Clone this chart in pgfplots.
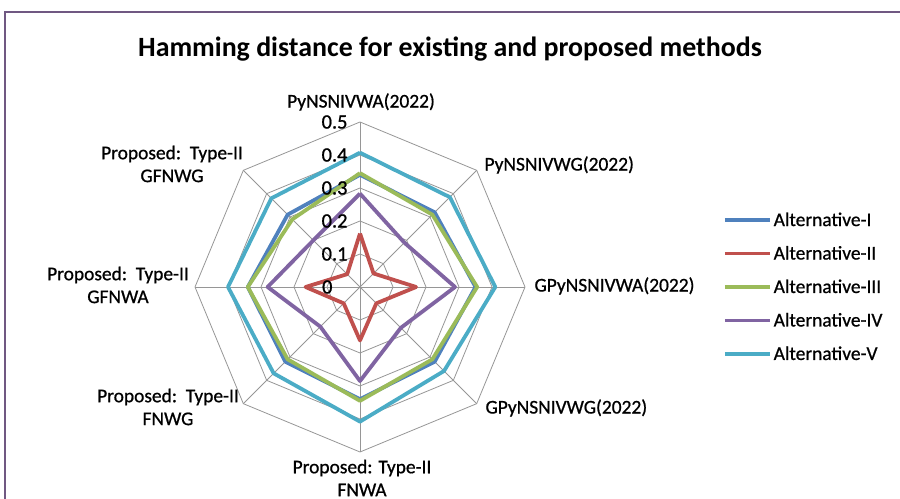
\documentclass[border=0pt]{standalone}
\usepackage{fontspec}
\setmainfont{Carlito}
\usepackage{pgfplots}
\pgfplotsset{compat=1.18}
\usepgfplotslibrary{polar}
\definecolor{altI}{RGB}{79,129,189}
\definecolor{altII}{RGB}{192,80,77}
\definecolor{altIII}{RGB}{155,187,89}
\definecolor{altIV}{RGB}{128,100,162}
\definecolor{altV}{RGB}{75,172,198}
\definecolor{gridcol}{RGB}{150,150,150}
\definecolor{framecol}{RGB}{112,88,130}
\newfontfamily\labfont[FakeBold=0.8]{Carlito}
\newcommand\lab{\labfont\fontsize{19.5}{23}\selectfont}

\begin{document}
\begin{tikzpicture}[x=1bp,y=1bp]
\useasboundingbox (0,0) rectangle (900,499);
\draw[framecol, line width=1.3bp] (5,-5) -- (5,487) -- (905,487);
\node[font=\fontsize{28}{33}\selectfont\bfseries] at (450,450) {Hamming distance for existing and proposed methods};

\begin{polaraxis}[
    at={(360bp,212bp)}, anchor=center,
    width=330bp, height=330bp, scale only axis,
    xmin=0, xmax=360, ymin=0, ymax=0.5,
    axis line style={draw=none},
    xtick=\empty, ytick=\empty,
    clip=false,
    every axis plot/.append style={line join=round},
    legend style={at={(1.59,0.5)}, anchor=west, draw=none, fill=none,
        font=\lab, row sep=14.5bp},
    legend cell align=left,
    legend image code/.code={\draw[#1] (0bp,0bp) -- (45bp,0bp);},
]
% web
\addplot[gridcol, line width=0.8bp, forget plot] coordinates {(90,0.1) (45,0.1) (0,0.1) (315,0.1) (270,0.1) (225,0.1) (180,0.1) (135,0.1) (90,0.1)};
\addplot[gridcol, line width=0.8bp, forget plot] coordinates {(90,0.2) (45,0.2) (0,0.2) (315,0.2) (270,0.2) (225,0.2) (180,0.2) (135,0.2) (90,0.2)};
\addplot[gridcol, line width=0.8bp, forget plot] coordinates {(90,0.3) (45,0.3) (0,0.3) (315,0.3) (270,0.3) (225,0.3) (180,0.3) (135,0.3) (90,0.3)};
\addplot[gridcol, line width=0.8bp, forget plot] coordinates {(90,0.4) (45,0.4) (0,0.4) (315,0.4) (270,0.4) (225,0.4) (180,0.4) (135,0.4) (90,0.4)};
\addplot[gridcol, line width=0.8bp, forget plot] coordinates {(90,0.5) (45,0.5) (0,0.5) (315,0.5) (270,0.5) (225,0.5) (180,0.5) (135,0.5) (90,0.5)};
\addplot[gridcol, line width=0.8bp, forget plot] coordinates {(90,0.5) (270,0.5)};
\addplot[gridcol, line width=0.8bp, forget plot] coordinates {(45,0.5) (225,0.5)};
\addplot[gridcol, line width=0.8bp, forget plot] coordinates {(0,0.5) (180,0.5)};
\addplot[gridcol, line width=0.8bp, forget plot] coordinates {(135,0.5) (315,0.5)};

% series, axes clockwise from the top
\addplot[altI, line width=3.8bp] coordinates {(90,0.34) (45,0.32) (0,0.35) (315,0.32) (270,0.34) (225,0.32) (180,0.34) (135,0.31) (90,0.34)};
\addlegendentry{Alternative-I}
\addplot[altII, line width=3.8bp] coordinates {(90,0.162) (45,0.058) (0,0.17) (315,0.07) (270,0.162) (225,0.07) (180,0.165) (135,0.055) (90,0.162)};
\addlegendentry{Alternative-II}
\addplot[altIII, line width=3.8bp] coordinates {(90,0.345) (45,0.31) (0,0.355) (315,0.31) (270,0.345) (225,0.31) (180,0.34) (135,0.29) (90,0.345)};
\addlegendentry{Alternative-III}
\addplot[altIV, line width=3.8bp] coordinates {(90,0.283) (45,0.19) (0,0.288) (315,0.175) (270,0.285) (225,0.17) (180,0.28) (135,0.2) (90,0.283)};
\addlegendentry{Alternative-IV}
\addplot[altV, line width=3.8bp] coordinates {(90,0.407) (45,0.385) (0,0.41) (315,0.36) (270,0.408) (225,0.37) (180,0.40) (135,0.38) (90,0.407)};
\addlegendentry{Alternative-V}

% radial scale on the top spoke
\node[font=\labfont\fontsize{20.5}{24}\selectfont, anchor=east, xshift=-9bp] at (axis cs:90,0.5) {0.5};
\node[font=\labfont\fontsize{20.5}{24}\selectfont, anchor=east, xshift=-9bp] at (axis cs:90,0.4) {0.4};
\node[font=\labfont\fontsize{20.5}{24}\selectfont, anchor=east, xshift=-9bp] at (axis cs:90,0.3) {0.3};
\node[font=\labfont\fontsize{20.5}{24}\selectfont, anchor=east, xshift=-9bp] at (axis cs:90,0.2) {0.2};
\node[font=\labfont\fontsize{20.5}{24}\selectfont, anchor=east, xshift=-9bp] at (axis cs:90,0.1) {0.1};
\node[font=\labfont\fontsize{20.5}{24}\selectfont, anchor=east, xshift=-24bp] at (axis cs:90,0) {0};
\end{polaraxis}

% category labels
\node[font=\lab] at (361,397) {PyNSNIVWA(2022)};
\node[font=\lab, anchor=west] at (481,334) {PyNSNIVWG(2022)};
\node[font=\lab, anchor=west] at (531,213) {GPyNSNIVWA(2022)};
\node[font=\lab, anchor=west] at (482,91) {GPyNSNIVWG(2022)};
\node[font=\lab, align=center] at (362,21) {Proposed: Type-II\\FNWA};
\node[font=\lab, align=center] at (168,92) {Proposed:\ \ Type-II\\FNWG};
\node[font=\lab, align=center] at (118,214) {Proposed:\ \ Type-II\\GFNWA};
\node[font=\lab, align=center] at (172,335) {Proposed:\ \ Type-II\\GFNWG};
\end{tikzpicture}
\end{document}
